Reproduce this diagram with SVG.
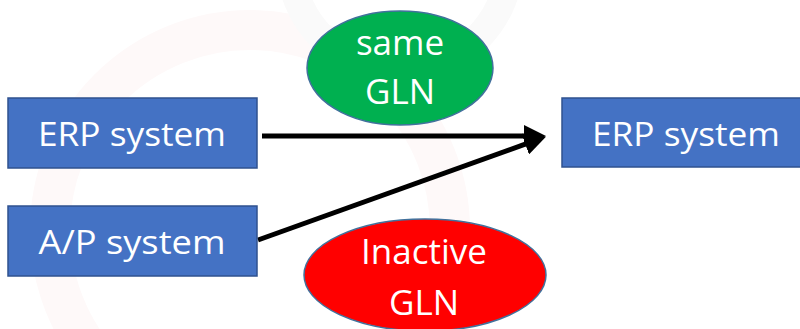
<svg xmlns="http://www.w3.org/2000/svg" width="800" height="329" viewBox="0 0 800 329">
  <style>
    .box { fill: #4472C4; stroke: #2F528F; stroke-width: 1.5; }
    .lbl { font-family: "Open Sans", "Noto Sans", "Liberation Sans", sans-serif; fill: #FFFFFF; font-size: 33px; text-anchor: middle; }
    .big { font-size: 35px; }
    .conn { stroke: #000000; stroke-width: 5; fill: none; }
    .ell { stroke: #41719C; stroke-width: 1.5; }
  </style>
  <defs>
    <marker id="arrow" markerUnits="userSpaceOnUse" markerWidth="22" markerHeight="22" refX="10" refY="10" orient="auto" viewBox="0 0 20 20">
      <path d="M0,0 L20,10 L0,20 Z" fill="#000000"/>
    </marker>
  </defs>
  <rect width="800" height="329" fill="#FFFFFF"/>
  <g id="watermark" fill="none">
    <circle cx="250" cy="230" r="200" stroke="#FEF9F9" stroke-width="40"/>
    <circle cx="400" cy="-40" r="110" stroke="#FAFAFA" stroke-width="28"/>
  </g>
  <g id="connectors">
    <line class="conn" x1="262" y1="136" x2="535" y2="136" marker-end="url(#arrow)"/>
    <line class="conn" x1="258" y1="240" x2="535.6" y2="140.4" marker-end="url(#arrow)"/>
  </g>
  <g id="erp-left">
    <rect class="box" x="8" y="98" width="249" height="70"/>
    <text class="lbl" x="132" y="146" textLength="188" lengthAdjust="spacingAndGlyphs">ERP system</text>
  </g>
  <g id="ap-system">
    <rect class="box" x="8" y="206" width="249" height="70"/>
    <text class="lbl" x="132" y="254" textLength="187" lengthAdjust="spacingAndGlyphs">A/P system</text>
  </g>
  <g id="erp-right">
    <rect class="box" x="562" y="98" width="250" height="69"/>
    <text class="lbl" x="686" y="146" textLength="188" lengthAdjust="spacingAndGlyphs">ERP system</text>
  </g>
  <g id="same-gln">
    <ellipse class="ell" cx="400" cy="68" rx="93" ry="57" fill="#00B050"/>
    <text class="lbl big" x="400" y="55">same</text>
    <text class="lbl big" x="400" y="104">GLN</text>
  </g>
  <g id="inactive-gln">
    <ellipse class="ell" cx="425" cy="275" rx="121" ry="56" fill="#FF0000"/>
    <text class="lbl big" x="424" y="264">Inactive</text>
    <text class="lbl big" x="424" y="315">GLN</text>
  </g>
</svg>
